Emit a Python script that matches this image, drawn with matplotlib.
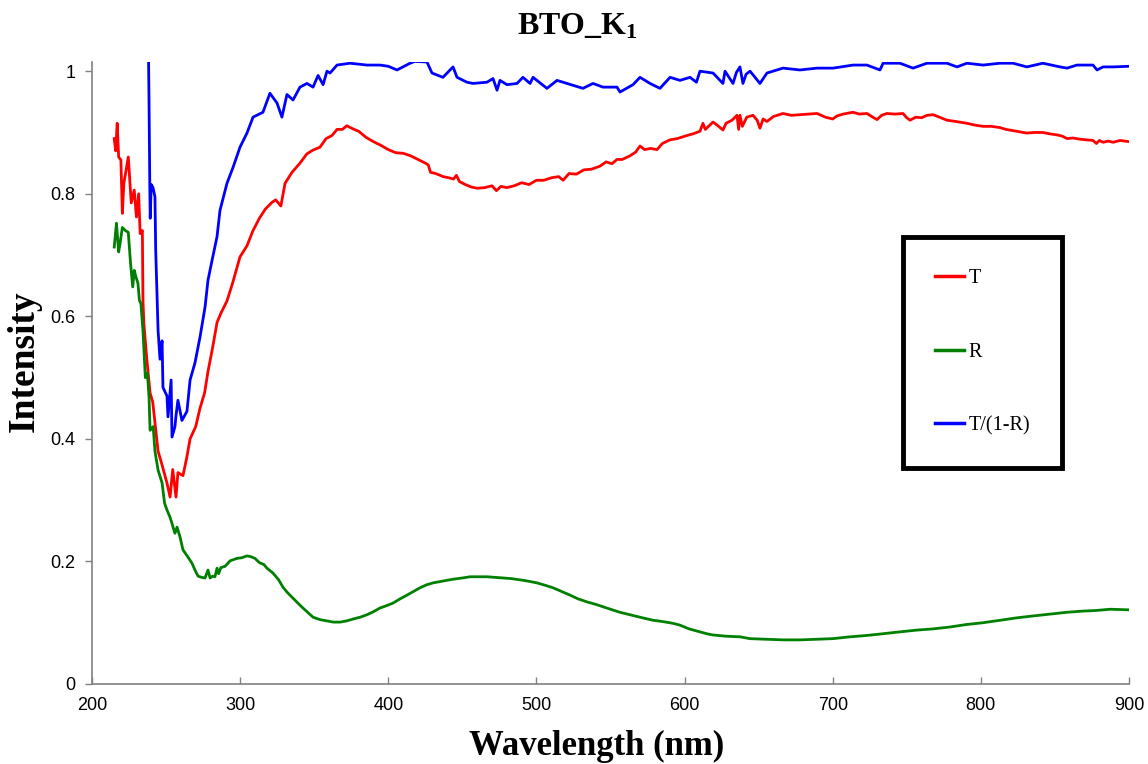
import numpy as np
import matplotlib
matplotlib.use("Agg")
import matplotlib.pyplot as plt

# values (wavelength in nm, intensity)
t_wl = [215.0, 216.0, 217.0, 218.0, 219.5, 220.5, 221.5, 224.5, 226.5, 228.5, 230.0, 231.5, 232.5,
        234.0, 234.4, 235.0, 236.0, 237.0, 239.2, 241.0, 244.6, 247.0, 250.6, 252.7, 254.5, 256.7,
        258.0, 261.4, 264.0, 266.2, 270.0, 272.9, 276.0, 278.3, 281.5, 284.4, 287.0, 291.1, 295.0,
        299.9, 304.6, 308.7, 313.0, 317.0, 321.5, 324.0, 327.5, 330.3, 335.0, 340.4, 345.0, 349.0,
        353.9, 358.0, 362.0, 365.4, 369.0, 372.0, 376.0, 380.0, 385.0, 390.0, 395.0, 400.0, 405.0,
        410.0, 415.0, 420.0, 425.0, 427.0, 428.5, 432.0, 437.0, 441.0, 444.0, 446.0, 448.0, 452.0,
        456.0, 460.0, 465.0, 470.0, 473.0, 476.0, 480.0, 485.0, 490.0, 495.0, 500.0, 505.0, 510.0,
        515.0, 518.0, 522.0, 527.0, 532.0, 537.0, 542.9, 547.0, 551.0, 554.4, 558.0, 563.2, 567.0,
        569.9, 573.0, 577.0, 581.4, 585.0, 590.2, 595.0, 601.6, 606.0, 610.4, 612.4, 614.0, 619.2,
        622.0, 625.9, 628.0, 632.0, 635.4, 636.5, 637.4, 639.0, 642.0, 646.2, 649.0, 650.9, 653.0,
        655.6, 660.0, 666.4, 672.0, 677.9, 684.0, 689.4, 695.0, 700.0, 702.9, 707.0, 713.7, 718.0,
        723.1, 727.0, 729.9, 733.0, 736.6, 742.0, 747.4, 750.0, 752.2, 756.0, 760.0, 763.6, 767.7,
        772.0, 777.1, 783.0, 790.6, 796.0, 801.5, 807.0, 812.9, 817.0, 821.7, 826.0, 831.1, 836.0,
        841.9, 846.0, 851.4, 855.0, 858.2, 862.0, 866.9, 871.0, 875.7, 878.0, 880.0, 882.5, 886.0,
        889.3, 894.0, 900.0]
t_val = [0.890, 0.870, 0.915, 0.860, 0.855, 0.768, 0.817, 0.860, 0.785, 0.806, 0.762, 0.800, 0.735,
         0.740, 0.626, 0.589, 0.560, 0.530, 0.475, 0.460, 0.380, 0.360, 0.328, 0.305, 0.350, 0.305,
         0.345, 0.340, 0.370, 0.400, 0.420, 0.450, 0.475, 0.510, 0.550, 0.590, 0.605, 0.625, 0.655,
         0.697, 0.715, 0.740, 0.760, 0.775, 0.786, 0.790, 0.780, 0.817, 0.835, 0.850, 0.865, 0.871,
         0.876, 0.890, 0.895, 0.905, 0.905, 0.911, 0.906, 0.902, 0.892, 0.885, 0.879, 0.872, 0.867,
         0.866, 0.862, 0.856, 0.850, 0.847, 0.835, 0.833, 0.828, 0.826, 0.824, 0.830, 0.820, 0.815,
         0.811, 0.809, 0.810, 0.813, 0.805, 0.812, 0.810, 0.813, 0.818, 0.815, 0.822, 0.822, 0.826,
         0.828, 0.822, 0.833, 0.832, 0.839, 0.840, 0.845, 0.852, 0.849, 0.856, 0.856, 0.862, 0.868,
         0.878, 0.872, 0.874, 0.872, 0.882, 0.888, 0.890, 0.895, 0.898, 0.902, 0.915, 0.905, 0.917,
         0.912, 0.904, 0.915, 0.920, 0.928, 0.905, 0.928, 0.910, 0.925, 0.928, 0.920, 0.907, 0.922,
         0.918, 0.926, 0.931, 0.928, 0.929, 0.930, 0.931, 0.925, 0.922, 0.927, 0.930, 0.933, 0.930,
         0.931, 0.925, 0.921, 0.928, 0.931, 0.930, 0.931, 0.924, 0.920, 0.925, 0.924, 0.928, 0.929,
         0.925, 0.920, 0.918, 0.915, 0.912, 0.910, 0.910, 0.908, 0.905, 0.903, 0.901, 0.899, 0.900,
         0.900, 0.898, 0.896, 0.894, 0.890, 0.891, 0.889, 0.888, 0.887, 0.882, 0.887, 0.884, 0.886,
         0.884, 0.887, 0.885]

r_wl = [215.0, 216.5, 218.0, 219.0, 220.5, 222.5, 224.5, 226.0, 227.5, 228.5, 229.7, 231.0, 232.0,
        233.0, 234.4, 236.0, 237.4, 238.5, 239.2, 241.3, 242.5, 244.6, 247.3, 249.0, 250.6, 252.7,
        254.0, 254.7, 256.0, 257.4, 259.4, 261.4, 264.8, 267.5, 269.5, 271.6, 274.0, 276.3, 278.3,
        279.7, 281.5, 283.0, 284.4, 285.5, 287.0, 289.8, 293.2, 297.9, 301.0, 304.6, 307.0, 310.0,
        313.0, 316.0, 318.1, 322.2, 326.0, 328.9, 332.0, 335.7, 339.0, 342.4, 346.0, 349.2, 354.0,
        358.6, 363.0, 367.4, 372.0, 376.2, 381.0, 385.6, 390.0, 394.4, 399.0, 403.2, 408.0, 412.6,
        417.0, 421.4, 426.0, 430.2, 437.0, 443.7, 450.0, 455.2, 461.0, 466.6, 472.0, 477.4, 483.0,
        488.9, 494.0, 500.4, 506.0, 511.2, 517.0, 522.7, 528.0, 534.1, 540.0, 544.9, 550.0, 556.4,
        563.0, 569.9, 575.0, 578.7, 585.0, 592.2, 596.9, 603.0, 610.4, 615.0, 619.2, 628.0, 637.4,
        644.2, 655.0, 666.4, 678.0, 689.4, 700.0, 711.7, 722.0, 733.9, 745.0, 756.9, 768.0, 779.2,
        790.0, 801.5, 813.0, 824.4, 835.0, 846.7, 858.0, 869.0, 878.0, 887.2, 900.0]
r_val = [0.713, 0.752, 0.705, 0.720, 0.745, 0.740, 0.737, 0.687, 0.648, 0.675, 0.664, 0.654, 0.626,
         0.621, 0.577, 0.500, 0.507, 0.468, 0.414, 0.420, 0.380, 0.349, 0.328, 0.295, 0.284, 0.272,
         0.262, 0.256, 0.246, 0.256, 0.240, 0.219, 0.207, 0.197, 0.186, 0.176, 0.174, 0.173, 0.186,
         0.173, 0.176, 0.175, 0.189, 0.180, 0.190, 0.192, 0.201, 0.205, 0.206, 0.209, 0.208, 0.205,
         0.198, 0.195, 0.189, 0.181, 0.170, 0.158, 0.149, 0.140, 0.132, 0.124, 0.116, 0.109, 0.105,
         0.103, 0.101, 0.101, 0.103, 0.106, 0.109, 0.113, 0.118, 0.124, 0.128, 0.132, 0.139, 0.145,
         0.151, 0.157, 0.162, 0.165, 0.168, 0.171, 0.173, 0.175, 0.175, 0.175, 0.174, 0.173, 0.172,
         0.170, 0.168, 0.165, 0.161, 0.157, 0.151, 0.145, 0.139, 0.134, 0.130, 0.126, 0.122, 0.117,
         0.113, 0.109, 0.106, 0.104, 0.102, 0.099, 0.096, 0.090, 0.085, 0.082, 0.080, 0.078, 0.077,
         0.074, 0.073, 0.072, 0.072, 0.073, 0.074, 0.077, 0.079, 0.082, 0.085, 0.088, 0.090, 0.093,
         0.097, 0.100, 0.104, 0.108, 0.111, 0.114, 0.117, 0.119, 0.120, 0.122, 0.121]

tr_wl = [237.8, 238.5, 239.0, 239.3, 240.0, 241.2, 242.5, 243.0, 244.6, 245.9, 247.3, 247.9, 250.6,
         251.3, 253.4, 254.0, 256.0, 256.7, 258.0, 260.7, 264.1, 266.2, 269.5, 272.9, 276.3, 278.3,
         281.1, 284.4, 286.4, 291.1, 295.2, 299.9, 304.6, 308.7, 315.4, 320.1, 324.9, 328.2, 331.6,
         335.7, 340.4, 345.1, 349.2, 352.6, 356.0, 358.6, 360.7, 365.4, 374.2, 385.6, 394.4, 400.0,
         405.9, 414.7, 418.0, 426.1, 429.5, 436.9, 443.7, 446.4, 453.1, 457.2, 466.6, 470.7, 473.4,
         475.4, 480.1, 486.9, 490.9, 495.7, 497.7, 507.1, 513.9, 520.6, 531.4, 538.2, 544.9, 554.4,
         556.4, 565.2, 569.9, 576.7, 583.4, 590.2, 596.9, 603.7, 608.0, 610.4, 619.2, 625.9, 627.3,
         632.7, 635.0, 637.4, 639.4, 641.5, 644.2, 650.9, 655.6, 666.4, 677.9, 689.4, 700.2, 713.7,
         723.1, 731.9, 734.0, 745.4, 754.2, 763.6, 777.1, 783.9, 790.6, 801.5, 812.9, 821.7, 831.1,
         841.9, 853.4, 858.2, 864.9, 875.7, 878.4, 882.5, 889.3, 900.0]
tr_val = [1.100, 0.950, 0.817, 0.760, 0.815, 0.810, 0.795, 0.708, 0.577, 0.530, 0.560, 0.484, 0.470,
          0.436, 0.496, 0.403, 0.420, 0.438, 0.463, 0.430, 0.445, 0.496, 0.524, 0.566, 0.615, 0.659,
          0.692, 0.730, 0.773, 0.817, 0.843, 0.876, 0.899, 0.925, 0.933, 0.964, 0.948, 0.925, 0.962,
          0.953, 0.974, 0.980, 0.974, 0.993, 0.978, 1.000, 0.997, 1.010, 1.013, 1.010, 1.010, 1.008,
          1.002, 1.013, 1.016, 1.015, 0.997, 0.990, 1.007, 0.990, 0.982, 0.980, 0.982, 0.988, 0.969,
          0.985, 0.978, 0.980, 0.990, 0.980, 0.990, 0.972, 0.985, 0.980, 0.972, 0.980, 0.974, 0.974,
          0.966, 0.978, 0.990, 0.980, 0.972, 0.990, 0.985, 0.990, 0.982, 1.000, 0.997, 0.980, 1.000,
          0.980, 0.998, 1.007, 0.980, 0.995, 1.000, 0.980, 0.997, 1.005, 1.002, 1.005, 1.005, 1.010,
          1.010, 1.002, 1.013, 1.013, 1.005, 1.013, 1.013, 1.007, 1.013, 1.010, 1.013, 1.013, 1.007,
          1.013, 1.007, 1.005, 1.010, 1.010, 1.002, 1.007, 1.007, 1.008]

x_ticks = [200, 300, 400, 500, 600, 700, 800, 900]
y_ticks = [0, 0.2, 0.4, 0.6, 0.8, 1]
y_tick_labels = ["0", "0.2", "0.4", "0.6", "0.8", "1"]

plt.rcParams['mathtext.fontset'] = 'custom'
plt.rcParams['mathtext.rm'] = 'Liberation Serif:bold'
plt.rcParams['mathtext.it'] = 'Liberation Serif'

fig = plt.figure(figsize=(11.48, 7.64), dpi=100)
ax = fig.add_axes([92 / 1148, 1 - 684 / 764, (1129 - 92) / 1148, (684 - 62) / 764])

ax.plot(t_wl, t_val, color='#FF0000', lw=2.0, label='T')
ax.plot(r_wl, r_val, color='#008000', lw=2.0, label='R')
ax.plot(tr_wl, tr_val, color='#0000FF', lw=2.0, label='T/(1-R)')

ax.set_xlim(200, 900)
ax.set_ylim(0, 1.015)
ax.set_xticks(x_ticks)
ax.set_yticks(y_ticks)
ax.set_yticklabels(y_tick_labels)

for s in ['top', 'right']:
    ax.spines[s].set_visible(False)
for s in ['left', 'bottom']:
    ax.spines[s].set_color('#808080')
    ax.spines[s].set_linewidth(1.2)

ax.tick_params(axis='x', direction='in', length=5, width=1, color='#808080', pad=9,
               labelsize=13)
ax.tick_params(axis='y', direction='out', length=5, width=1, color='#808080', pad=7,
               labelsize=13)
for lab in ax.get_xticklabels() + ax.get_yticklabels():
    lab.set_fontfamily('Liberation Sans')

ax.set_xlabel('Wavelength (nm)', fontsize=25, fontweight='bold', family='Liberation Serif',
              va='center')
ax.xaxis.set_label_coords(0.4865, -0.101)
ax.set_ylabel('Intensity', fontsize=27, fontweight='bold', family='Liberation Serif',
              va='center')
ax.yaxis.set_label_coords(-0.065, 0.519)
fig.text(0.503, 0.966, r'$\mathrm{BTO\_K}_{\mathit{1}}$', ha='center', va='center', fontsize=23)

leg = ax.legend(loc='upper left', bbox_to_anchor=(903 / 1148, 1 - 237 / 764),
                bbox_transform=fig.transFigure, prop={'family': 'Liberation Serif', 'size': 14.5},
                frameon=True, fancybox=False, edgecolor='black', framealpha=1,
                handlelength=1.45, handletextpad=0.2, labelspacing=2.7, borderpad=1.6,
                borderaxespad=0)
leg.get_frame().set_linewidth(3.5)
for line in leg.get_lines():
    line.set_linewidth(2.5)

fig.savefig('out.png', dpi=100)
